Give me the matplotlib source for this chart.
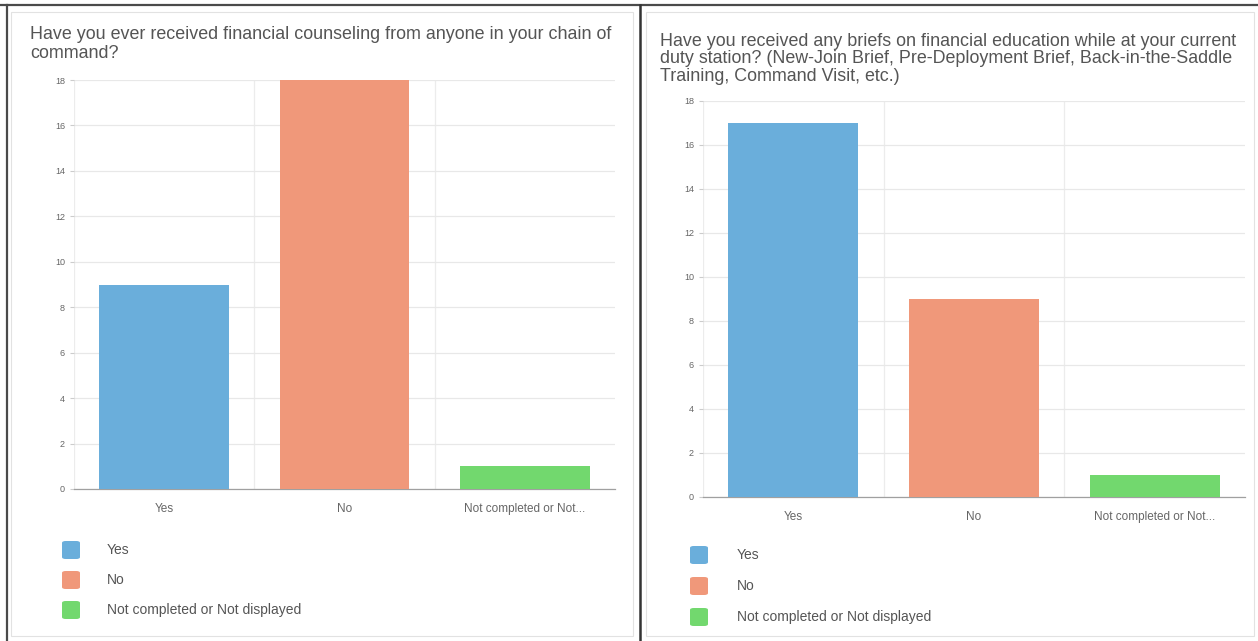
import matplotlib
matplotlib.use("Agg")
import matplotlib.pyplot as plt
from matplotlib.lines import Line2D
from matplotlib.patches import FancyBboxPatch, Rectangle

# Survey answers, two questions
categories = ["Yes", "No", "Not completed or Not displayed"]
tick_labels = ["Yes", "No", "Not completed or Not..."]
counseling_counts = [9, 18, 1]
briefs_counts = [17, 9, 1]
yticks = list(range(0, 19, 2))

title_left = ("Have you ever received financial counseling from anyone in your chain of\n"
              "command?")
title_right = ("Have you received any briefs on financial education while at your current\n"
               "duty station? (New-Join Brief, Pre-Deployment Brief, Back-in-the-Saddle\n"
               "Training, Command Visit, etc.)")

COLORS = ["#6aaedb", "#f0987a", "#72d86e"]
TEXT = "#555555"
W, H = 1258, 641

plt.rcParams["font.family"] = ["Liberation Sans", "DejaVu Sans"]

fig = plt.figure(figsize=(W / 100, H / 100), dpi=100)
fig.patch.set_facecolor("white")


def fx(x):
    return x / W


def fy(y):
    return 1 - y / H


def line(x0, y0, x1, y1, color, lw):
    fig.add_artist(Line2D([fx(x0), fx(x1)], [fy(y0), fy(y1)],
                          transform=fig.transFigure, color=color, lw=lw))


def bar_panel(left, right, top, bottom, values):
    ax = fig.add_axes([fx(left), fy(bottom), fx(right - left), (bottom - top) / H])
    xs = range(len(values))
    ax.bar(xs, values, width=0.72, color=COLORS, zorder=3)
    ax.set_xlim(-0.5, len(values) - 0.5)
    ax.set_ylim(0, 18)
    ax.set_yticks(yticks)
    ax.set_xticks(list(xs))
    ax.set_xticklabels(tick_labels)
    ax.tick_params(axis="y", labelsize=6.5, colors="#666666", length=3,
                   color="#cccccc")
    ax.tick_params(axis="x", labelsize=8.5, colors="#666666", length=0, pad=10)
    ax.grid(axis="y", color="#e8e8e8", lw=0.9, zorder=0)
    for b in [-0.5, 0.5, 1.5]:
        ax.axvline(b, color="#ececec", lw=0.9, zorder=0)
    for s in ["top", "right", "left"]:
        ax.spines[s].set_visible(False)
    ax.spines["bottom"].set_color("#a0a0a0")
    ax.spines["bottom"].set_linewidth(0.9)
    return ax


def legend(x, y0, step, text_x):
    for i, (name, c) in enumerate(zip(categories, COLORS)):
        yc = y0 + i * step
        box = FancyBboxPatch((fx(x), fy(yc + 9)), fx(18), 18 / H,
                             boxstyle="round,pad=0,rounding_size=0.003",
                             transform=fig.transFigure, facecolor=c,
                             edgecolor="none")
        fig.add_artist(box)
        fig.text(fx(text_x), fy(yc), name, fontsize=10, color=TEXT,
                 va="center", ha="left")


# panel frames
fig.add_artist(Rectangle((fx(11), fy(636)), fx(622), 624 / H, transform=fig.transFigure,
                         facecolor="none", edgecolor="#e2e2e2", lw=0.8))
fig.add_artist(Rectangle((fx(646), fy(636)), fx(608), 624 / H, transform=fig.transFigure,
                         facecolor="none", edgecolor="#e2e2e2", lw=0.8))
line(0, 5, W, 5, "#4a4a4a", 1.6)
line(7, 5, 7, H, "#4a4a4a", 1.6)
line(640, 5, 640, H, "#333333", 1.8)

# left question
fig.text(fx(30), fy(26), title_left, fontsize=12.9, color=TEXT, va="top",
         ha="left", linespacing=1.12)
bar_panel(74, 615, 80, 489, counseling_counts)
legend(62, 550, 30, 107)

# right question
fig.text(fx(660), fy(33), title_right, fontsize=12.9, color=TEXT, va="top",
         ha="left", linespacing=1.03)
bar_panel(703, 1245, 101, 497, briefs_counts)
legend(690, 555, 31, 737)

fig.savefig("out.png", dpi=100)
